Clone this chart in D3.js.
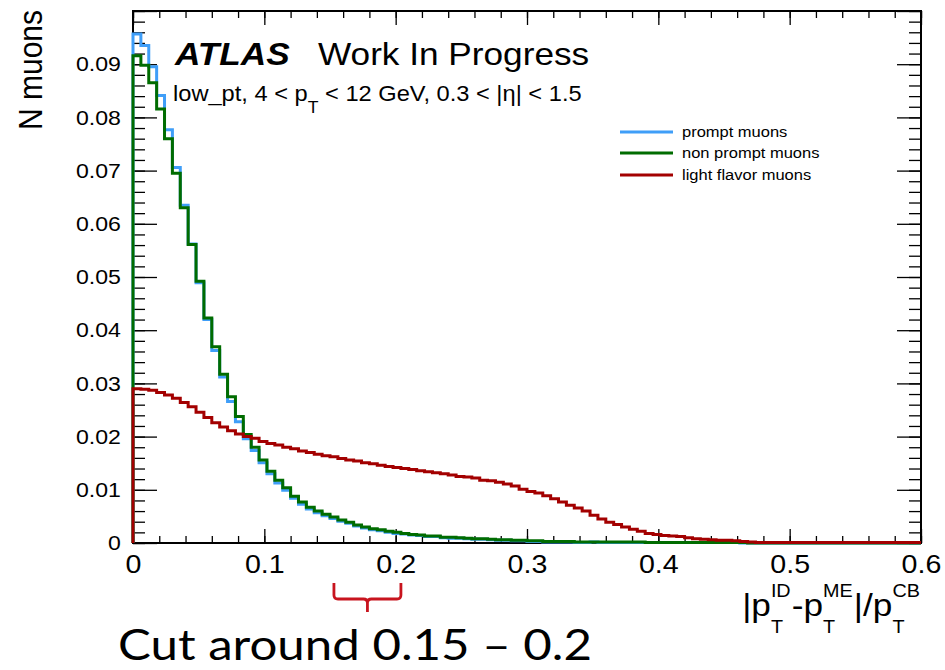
<!DOCTYPE html>
<html>
<head>
<meta charset="utf-8">
<script src="https://cdn.jsdelivr.net/npm/d3@7"></script>
<style>
  body { margin: 0; background: #fff; }
  svg text { fill: #000; }
</style>
</head>
<body>
<svg id="chart" width="945" height="670" font-family="'Liberation Sans', Arial, Helvetica, sans-serif"></svg>
<script>
// Histogram range: 100 bins between 0 and 0.6
const histLow = 0;
const histHigh = 0.6;

// Normalised bin contents, one entry per bin
const promptMuons = [
  0.0957, 0.0935, 0.0895, 0.0841, 0.0777, 0.0706, 0.0635, 0.0562, 0.0489, 0.0420,
  0.0362, 0.0312, 0.0266, 0.0228, 0.0196, 0.0174, 0.0151, 0.0130, 0.0113, 0.0099,
  0.0084, 0.0073, 0.0064, 0.0057, 0.0051, 0.0046, 0.0041, 0.0037, 0.0032, 0.0028,
  0.0025, 0.0023, 0.0020, 0.0018, 0.0017, 0.0015, 0.0014, 0.0012, 0.0012, 0.0010,
  0.0009, 0.0009, 0.0008, 0.0007, 0.0007, 0.0006, 0.0005, 0.0005, 0.0004, 0.0004,
  0.0003, 0.0003, 0.0002, 0.0002, 0.0002, 0.0002, 0.0001, 0.0001, 0.0002, 0.0001,
  0.0001, 0.0001, 0.0001, 0.0001, 0.0001, 0.0001, 0.0001, 0.0001, 0.0001, 0.0001,
  0.0001, 0.0001, 0.0001, 0.0001, 0.0001, 0.0001, 0.0001, 0.0000, 0.0000, 0.0000,
  0.0000, 0.0000, 0.0000, 0.0000, 0.0000, 0.0000, 0.0000, 0.0000, 0.0000, 0.0000,
  0.0000, 0.0000, 0.0000, 0.0000, 0.0000, 0.0000, 0.0000, 0.0000, 0.0000, 0.0000
];

const nonPromptMuons = [
  0.0916, 0.0898, 0.0865, 0.0816, 0.0760, 0.0695, 0.0630, 0.0561, 0.0492, 0.0423,
  0.0369, 0.0317, 0.0275, 0.0238, 0.0204, 0.0180, 0.0156, 0.0135, 0.0118, 0.0104,
  0.0088, 0.0077, 0.0067, 0.0060, 0.0054, 0.0049, 0.0043, 0.0039, 0.0034, 0.0030,
  0.0027, 0.0025, 0.0022, 0.0020, 0.0018, 0.0016, 0.0015, 0.0013, 0.0013, 0.0011,
  0.0011, 0.0010, 0.0009, 0.0008, 0.0008, 0.0007, 0.0006, 0.0006, 0.0005, 0.0005,
  0.0004, 0.0004, 0.0003, 0.0003, 0.0003, 0.0003, 0.0002, 0.0002, 0.0002, 0.0002,
  0.0002, 0.0002, 0.0002, 0.0002, 0.0002, 0.0001, 0.0001, 0.0001, 0.0001, 0.0001,
  0.0001, 0.0001, 0.0001, 0.0001, 0.0001, 0.0001, 0.0001, 0.0001, 0.0000, 0.0000,
  0.0000, 0.0000, 0.0000, 0.0000, 0.0000, 0.0000, 0.0000, 0.0000, 0.0000, 0.0000,
  0.0000, 0.0000, 0.0000, 0.0000, 0.0000, 0.0000, 0.0000, 0.0000, 0.0000, 0.0000
];

const lightFlavorMuons = [
  0.0290, 0.0289, 0.0287, 0.0283, 0.0278, 0.0272, 0.0264, 0.0256, 0.0246, 0.0236,
  0.0226, 0.0218, 0.0211, 0.0205, 0.0200, 0.0197, 0.0191, 0.0187, 0.0184, 0.0180,
  0.0177, 0.0173, 0.0170, 0.0167, 0.0164, 0.0162, 0.0159, 0.0156, 0.0154, 0.0151,
  0.0149, 0.0146, 0.0144, 0.0142, 0.0140, 0.0138, 0.0136, 0.0134, 0.0132, 0.0130,
  0.0128, 0.0125, 0.0124, 0.0122, 0.0118, 0.0117, 0.0114, 0.0111, 0.0107, 0.0101,
  0.0097, 0.0094, 0.0089, 0.0083, 0.0077, 0.0071, 0.0066, 0.0060, 0.0052, 0.0045,
  0.0039, 0.0035, 0.0030, 0.0026, 0.0022, 0.0018, 0.0016, 0.0014, 0.0013, 0.0012,
  0.0010, 0.0008, 0.0007, 0.0006, 0.0005, 0.0005, 0.0004, 0.0003, 0.0002, 0.0001,
  0.0001, 0.0001, 0.0001, 0.0001, 0.0001, 0.0001, 0.0001, 0.0001, 0.0001, 0.0001,
  0.0001, 0.0001, 0.0001, 0.0001, 0.0001, 0.0001, 0.0001, 0.0001, 0.0001, 0.0001
];

const seriesNames = ["prompt muons", "non prompt muons", "light flavor muons"];
const xTickValues = [0, 0.1, 0.2, 0.3, 0.4, 0.5, 0.6];
const yTickValues = [0, 0.01, 0.02, 0.03, 0.04, 0.05, 0.06, 0.07, 0.08, 0.09];
const cutRange = [0.153, 0.204];
const cutNote = "Cut around 0.15 \u2013 0.2";

// ---- styling ----
const colors = ["#3f9ef8", "#006c00", "#a30000"];
const W = 945, H = 670;
const frame = { left: 133, right: 921, top: 11, bottom: 543 };
const SX = 1.1; // horizontal stretch of the canvas text

const svg = d3.select("#chart");
svg.append("rect").attr("width", W).attr("height", H).attr("fill", "#fff");

const x = d3.scaleLinear().domain([histLow, histHigh]).range([frame.left, frame.right]);
const y = d3.scaleLinear().domain([0, 0.1]).range([frame.bottom, frame.top]);

// ---- histograms as step lines ----
function stepPoints(values) {
  const n = values.length;
  const w = (histHigh - histLow) / n;
  const pts = [[histLow, 0]];
  values.forEach((v, i) => {
    pts.push([histLow + i * w, v]);
    pts.push([histLow + (i + 1) * w, v]);
  });
  return pts;
}
const line = d3.line().x(d => x(d[0])).y(d => y(d[1]));
const series = [promptMuons, nonPromptMuons, lightFlavorMuons];

// ---- axes (ticks drawn inward on all four sides) ----
const minorX = d3.range(0, 0.6001, 0.02);
const minorY = d3.range(0, 0.1001, 0.002);

function styleAxis(g) {
  g.select(".domain").remove();
  g.selectAll(".tick line").attr("stroke", "#000").attr("stroke-width", 1.3);
}

// bottom
svg.append("g").attr("transform", `translate(0,${frame.bottom})`)
  .call(d3.axisBottom(x).tickValues(minorX).tickSizeInner(-7).tickSizeOuter(0).tickFormat(""))
  .call(styleAxis);
const xAx = svg.append("g").attr("transform", `translate(0,${frame.bottom})`)
  .call(d3.axisBottom(x).tickValues(xTickValues).tickSizeInner(-14).tickSizeOuter(0).tickPadding(12)
    .tickFormat(d => d === 0 ? "0" : d3.format(".1f")(d)))
  .call(styleAxis);
xAx.attr("font-family", null).attr("font-size", null);
xAx.selectAll(".tick text").attr("font-size", 26)
  .attr("transform", `scale(${SX},1)`);

// top
svg.append("g").attr("transform", `translate(0,${frame.top})`)
  .call(d3.axisTop(x).tickValues(minorX).tickSizeInner(-7).tickSizeOuter(0).tickFormat(""))
  .call(styleAxis);
svg.append("g").attr("transform", `translate(0,${frame.top})`)
  .call(d3.axisTop(x).tickValues(xTickValues).tickSizeInner(-14).tickSizeOuter(0).tickFormat(""))
  .call(styleAxis);

// left
svg.append("g").attr("transform", `translate(${frame.left},0)`)
  .call(d3.axisLeft(y).tickValues(minorY).tickSizeInner(-12).tickSizeOuter(0).tickFormat(""))
  .call(styleAxis);
const yAx = svg.append("g").attr("transform", `translate(${frame.left},0)`)
  .call(d3.axisLeft(y).tickValues(yTickValues.concat([0.1])).tickSizeInner(-24).tickSizeOuter(0).tickPadding(11)
    .tickFormat(d => d === 0 ? "0" : (d >= 0.0999 ? "" : d3.format(".2f")(d))))
  .call(styleAxis);
yAx.attr("font-family", null).attr("font-size", null);
yAx.selectAll(".tick text").attr("font-size", 21)
  .attr("transform", `scale(${SX},1)`);

// right
svg.append("g").attr("transform", `translate(${frame.right},0)`)
  .call(d3.axisRight(y).tickValues(minorY).tickSizeInner(-12).tickSizeOuter(0).tickFormat(""))
  .call(styleAxis);
svg.append("g").attr("transform", `translate(${frame.right},0)`)
  .call(d3.axisRight(y).tickValues(yTickValues.concat([0.1])).tickSizeInner(-24).tickSizeOuter(0).tickFormat(""))
  .call(styleAxis);

// frame
svg.append("rect")
  .attr("x", frame.left).attr("y", frame.top)
  .attr("width", frame.right - frame.left).attr("height", frame.bottom - frame.top)
  .attr("fill", "none").attr("stroke", "#000").attr("stroke-width", 2);

// histogram lines (prompt first, light flavour on top)
series.forEach((vals, i) => {
  svg.append("path")
    .datum(stepPoints(vals))
    .attr("d", line)
    .attr("fill", "none")
    .attr("stroke", colors[i])
    .attr("stroke-width", 3)
    .attr("stroke-linejoin", "miter");
});

// ---- texts ----
function stretched(px, py) {
  return svg.append("g").attr("transform", `translate(${px},${py}) scale(${SX},1)`);
}

// ATLAS label
const atl = stretched(175, 65);
atl.append("text").attr("font-size", 32).attr("font-weight", "bold").attr("font-style", "italic").text("ATLAS");
const wip = stretched(318, 65);
wip.append("text").attr("font-size", 32).text("Work In Progress");

// selection description
const sub = stretched(173, 101).append("text").attr("font-size", 21.5);
sub.append("tspan").text("low_pt, 4 < p");
sub.append("tspan").attr("font-size", 16).attr("dy", 12).text("T");
sub.append("tspan").attr("dy", -12).text(" < 12 GeV, 0.3 < |\u03b7| < 1.5");

// legend
const legendY = [132, 153, 175];
seriesNames.forEach((name, i) => {
  svg.append("line")
    .attr("x1", 620).attr("x2", 673)
    .attr("y1", legendY[i]).attr("y2", legendY[i])
    .attr("stroke", colors[i]).attr("stroke-width", 3);
  stretched(682, legendY[i]).append("text")
    .attr("font-size", 15).attr("dy", "0.35em").text(name);
});

// y axis title
svg.append("g").attr("transform", `translate(42,10) scale(${SX},1) rotate(-90)`)
  .append("text").attr("font-size", 30).attr("text-anchor", "end").text("N muons");

// x axis title |pT^ID - pT^ME| / pT^CB, right aligned to the frame
const xt = svg.append("g");
const mainSize = 32, scriptSize = 18;
const baseY = 616;
let cursor = 0;
function mainPiece(str) {
  const t = xt.append("text").attr("x", cursor).attr("y", baseY).attr("font-size", mainSize).text(str);
  cursor += t.node().getComputedTextLength();
}
function scripts(lower, upper) {
  const a = xt.append("text").attr("x", cursor).attr("y", baseY + 17).attr("font-size", scriptSize).text(lower);
  const b = xt.append("text").attr("x", cursor).attr("y", baseY - 19).attr("font-size", scriptSize).text(upper);
  cursor += Math.max(a.node().getComputedTextLength(), b.node().getComputedTextLength()) + 1;
}
mainPiece("|p"); scripts("T", "ID");
mainPiece("-p"); scripts("T", "ME");
mainPiece("|/p"); scripts("T", "CB");
const titleW = cursor * SX;
xt.attr("transform", `translate(${frame.right - titleW},0) scale(${SX},1)`);

// cut annotation: brace below the axis and a note
const bL = x(cutRange[0]), bR = x(cutRange[1]), bM = (bL + bR) / 2;
const bTop = 583, bMid = 599, bTip = 612, r = 4;
const brace = d3.path();
brace.moveTo(bL, bTop);
brace.lineTo(bL, bMid - r);
brace.quadraticCurveTo(bL, bMid, bL + r, bMid);
brace.lineTo(bM - r, bMid);
brace.quadraticCurveTo(bM, bMid, bM, bMid + r);
brace.lineTo(bM, bTip);
brace.moveTo(bM, bMid + r);
brace.quadraticCurveTo(bM, bMid, bM + r, bMid);
brace.lineTo(bR - r, bMid);
brace.quadraticCurveTo(bR, bMid, bR, bMid - r);
brace.lineTo(bR, bTop);
svg.append("path").attr("d", brace.toString())
  .attr("fill", "none").attr("stroke", "#c8141e").attr("stroke-width", 2.8);

svg.append("text")
  .attr("x", 118).attr("y", 660)
  .style("font-family", "Lato, 'Open Sans', sans-serif")
  .attr("font-size", 42)
  .attr("textLength", 474).attr("lengthAdjust", "spacingAndGlyphs")
  .text(cutNote);
</script>
</body>
</html>
